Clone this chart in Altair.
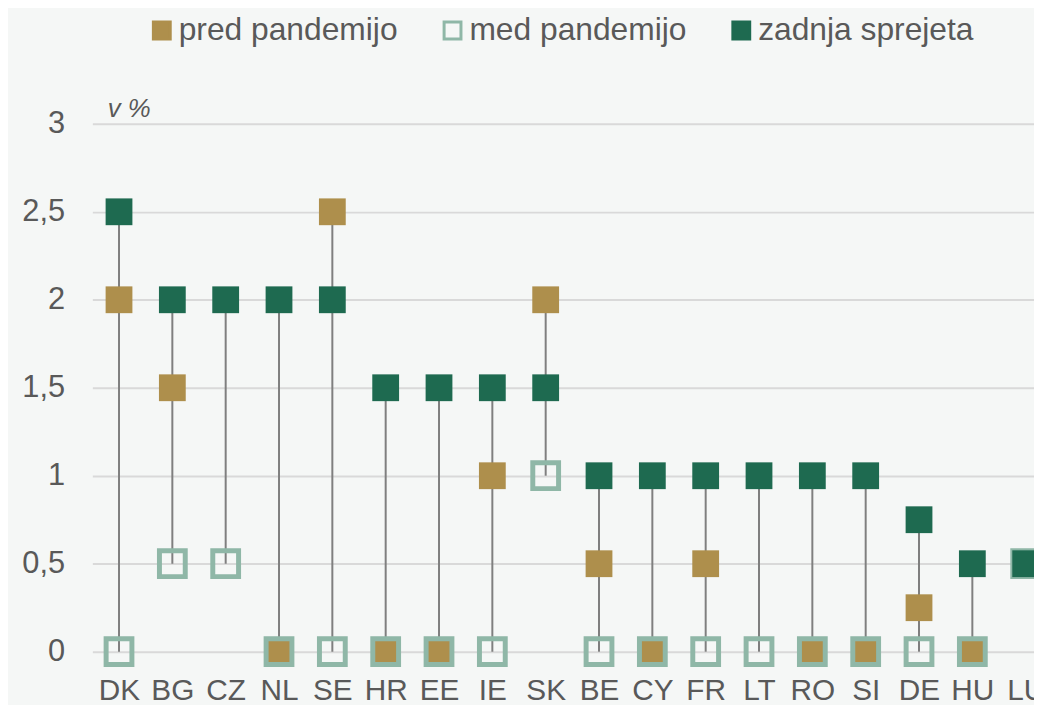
import altair as alt
import pandas as pd

countries = ["DK", "BG", "CZ", "NL", "SE", "HR", "EE", "IE", "SK", "BE",
             "CY", "FR", "LT", "RO", "SI", "DE", "HU", "LU"]
pred = [2, 1.5, None, 0, 2.5, 0, 0, 1, 2, 0.5, 0, 0.5, None, 0, 0, 0.25, 0, None]
med = [0, 0.5, 0.5, 0, 0, 0, 0, 0, 1, 0, 0, 0, 0, 0, 0, 0, 0, 0.5]
zadnja = [2.5, 2, 2, 2, 2, 1.5, 1.5, 1.5, 1.5, 1, 1, 1, 1, 1, 1, 0.75, 0.5, 0.5]

series_names = ["pred pandemijo", "med pandemijo", "zadnja sprejeta"]
series_values = [pred, med, zadnja]
y_ticks = [0, 0.5, 1, 1.5, 2, 2.5, 3]

GOLD = "#AE8F4C"
MED = "#8FB7A7"
GREEN = "#1E6A50"
TEXT = "#595959"
FONT = "Liberation Sans"

rows = []
for name, vals in zip(series_names, series_values):
    for i, (c, v) in enumerate(zip(countries, vals)):
        if v is not None:
            rows.append({"idx": i, "country": c, "series": name, "value": v})
points = pd.DataFrame(rows)

stem_rows = []
for i, c in enumerate(countries):
    vs = [s[i] for s in series_values if s[i] is not None]
    stem_rows.append({"idx": i, "country": c, "lo": min(vs), "hi": max(vs)})
stems = pd.DataFrame(stem_rows)

label_arr = "[" + ",".join("'%s'" % c for c in countries) + "]"

x_scale = alt.Scale(domain=[-0.5, 17.156], nice=False, zero=False)
y_scale = alt.Scale(domain=[0, 3], nice=False)

x_enc = alt.X("idx:Q", scale=x_scale,
              axis=alt.Axis(values=list(range(len(countries))),
                            labelExpr=label_arr + "[datum.value]",
                            title=None, grid=False, domain=False, ticks=False,
                            labelPadding=24, labelFontSize=30, labelColor=TEXT,
                            labelFont=FONT, labelOverlap=False, labelFlush=False))

stem_layer = alt.Chart(stems).mark_rule(color="#7F7F7F", strokeWidth=2).encode(
    x=x_enc,
    y=alt.Y("lo:Q", scale=y_scale,
            axis=alt.Axis(values=y_ticks,
                          labelExpr="replace(format(datum.value, '~g'), '.', ',')",
                          title="v %", titleAngle=0, titleAlign="left",
                          titleBaseline="middle", titleX=15, titleY=-15,
                          titleFontStyle="italic", titleFontWeight="normal",
                          titleFontSize=26, titleColor=TEXT, titleFont=FONT,
                          grid=True, gridColor="#D9D9D9", gridWidth=2,
                          domain=False, ticks=False, labelPadding=28,
                          labelFontSize=31, labelColor=TEXT, labelFont=FONT)),
    y2="hi:Q",
)

legend = alt.Legend(title=None, orient="none", legendX=54, legendY=-110,
                    direction="horizontal", labelFontSize=32,
                    labelColor=TEXT, labelFont=FONT,
                    symbolType="square", symbolSize=289,
                    symbolStrokeWidth=3, labelOffset=1,
                    columnPadding=39, labelLimit=400)

point_layer = alt.Chart(points).mark_point(shape="square", filled=True, opacity=1).encode(
    x=alt.X("idx:Q", scale=x_scale),
    y=alt.Y("value:Q", scale=y_scale),
    fill=alt.Fill("series:N",
                  scale=alt.Scale(domain=series_names, range=[GOLD, "transparent", GREEN]),
                  legend=legend),
    stroke=alt.Stroke("series:N",
                      scale=alt.Scale(domain=series_names, range=[GOLD, MED, GREEN]),
                      legend=legend),
    strokeWidth=alt.condition(alt.datum.series == "med pandemijo", alt.value(5), alt.value(0)),
    size=alt.condition(alt.datum.series == "med pandemijo", alt.value(676), alt.value(729)),
)

chart = alt.layer(stem_layer, point_layer).properties(
    width=949, height=532,
    autosize=alt.AutoSizeParams(type="none"),
    padding={"left": 85, "top": 114, "right": 0, "bottom": 51},
    background="#F5F7F6",
).configure_view(stroke=None)

chart.save("out.html", embed_options={"renderer": "svg", "actions": False})
